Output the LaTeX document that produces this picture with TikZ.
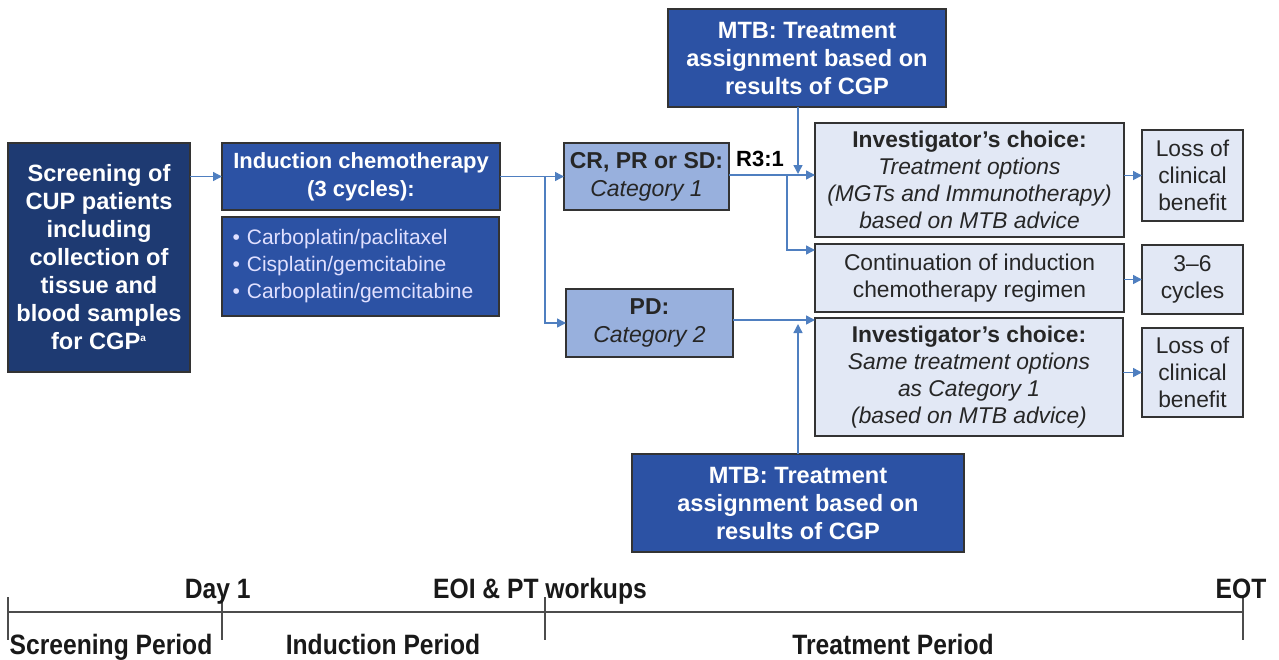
\documentclass[tikz,border=0pt]{standalone}
\usepackage{fontspec}
\setmainfont{Liberation Sans}
\newfontfamily\narrowfont{Liberation Sans}[FakeStretch=0.88]
\usetikzlibrary{arrows.meta}
\definecolor{navy}{HTML}{1E3A72}
\definecolor{midblue}{HTML}{2C52A4}
\definecolor{catblue}{HTML}{98B0DD}
\definecolor{paleblue}{HTML}{E2E8F5}
\definecolor{linkblue}{HTML}{4F7FC0}
\definecolor{edge}{HTML}{333333}
\def\px{0.5pt}
\begin{document}
\begin{tikzpicture}[x=0.5pt, y=-0.5pt,
    box/.style={draw=edge, line width=0.6pt, align=center, inner sep=0pt, outer sep=0pt},
    darkbox/.style={box, fill=#1, text=white, font=\fontsize{11.8}{14}\selectfont\bfseries},
    catbox/.style={box, fill=catblue, text=black!85, font=\fontsize{11.5}{14}\selectfont},
    lightbox/.style={box, fill=paleblue, text=black!85, font=\fontsize{11.4}{13.5}\selectfont},
    conn/.style={draw=linkblue, line width=0.7pt, -{Triangle[length=4.5pt,width=4.5pt]}},
    period/.style={font=\narrowfont\fontsize{14}{15}\selectfont\bfseries, text=black!90, inner sep=0pt}]
  \useasboundingbox (0,0) rectangle (1279,659);
  % left column
  \node[darkbox=navy, minimum width=182*\px, minimum height=229*\px] (scr) at (99,257.5)
    {Screening of\\CUP patients\\including\\collection of\\tissue and\\blood samples\\for CGP\textsuperscript{\tiny a}};
  \node[darkbox=midblue, font=\fontsize{11}{14}\selectfont\bfseries, minimum width=278*\px, minimum height=67*\px] (ind) at (361,176.5)
    {Induction chemotherapy\\(3 cycles):};
  \node[box, fill=midblue, text=white!88!blue, minimum width=277*\px, minimum height=99*\px,
        text width=128pt, align=left, font=\fontsize{10.5}{13.5}\selectfont] (drug) at (360.5,266.5)
    {\textbullet\ Carboplatin/paclitaxel\\\textbullet\ Cisplatin/gemcitabine\\\textbullet\ Carboplatin/gemcitabine};
  % categories
  \node[catbox, minimum width=165*\px, minimum height=67*\px] (cr) at (646.5,176.5)
    {\textbf{CR, PR or SD:}\\\textit{Category 1}};
  \node[catbox, minimum width=167*\px, minimum height=68*\px] (pd) at (649.5,323)
    {\textbf{PD:}\\\textit{Category 2}};
  \node[font=\fontsize{11}{14}\selectfont\bfseries, inner sep=0pt] (ratio) at (760,159) {R3:1};
  % tumour boards
  \node[darkbox=midblue, minimum width=278*\px, minimum height=98*\px] (mtb1) at (807,58)
    {MTB: Treatment\\assignment based on\\results of CGP};
  \node[darkbox=midblue, minimum width=332*\px, minimum height=98*\px] (mtb2) at (798,503)
    {MTB: Treatment\\assignment based on\\results of CGP};
  % treatment options
  \node[lightbox, minimum width=309*\px, minimum height=114*\px] (inv1) at (969.5,180)
    {\textbf{Investigator's choice:}\\\textit{Treatment options}\\\textit{(MGTs and Immunotherapy)}\\\textit{based on MTB advice}};
  \node[lightbox, minimum width=309*\px, minimum height=68*\px] (cont) at (969.5,278)
    {Continuation of induction\\chemotherapy regimen};
  \node[lightbox, minimum width=308*\px, minimum height=118*\px] (inv2) at (969,377)
    {\textbf{Investigator's choice:}\\\textit{Same treatment options}\\\textit{as Category 1}\\\textit{(based on MTB advice)}};
  \node[lightbox, minimum width=101*\px, minimum height=91*\px] (loss1) at (1192.5,175.5)
    {Loss of\\clinical\\benefit};
  \node[lightbox, minimum width=101*\px, minimum height=69*\px] (cyc) at (1192.5,279.5)
    {3--6\\cycles};
  \node[lightbox, minimum width=101*\px, minimum height=89*\px] (loss2) at (1192.5,372.5)
    {Loss of\\clinical\\benefit};
  % connectors
  \coordinate (split1) at (545,176.5);
  \coordinate (split2) at (787,175);
  \coordinate (cin) at (815,250);
  \coordinate (t1) at (798,174);
  \coordinate (t2) at (798,324);
  \draw[conn] (scr.east |- ind.west) -- (ind.west);
  \draw[conn] (ind.east) -- (cr.west);
  \draw[conn] (split1) |- (pd.west);
  \draw[conn] (cr.east |- split2) -- (split2 -| inv1.west);
  \draw[conn] (split2) |- (cin);
  \draw[conn] (t1 |- mtb1.south) -- (t1);
  \draw[conn] (pd.east |- 0,320) -- (inv2.west |- 0,320);
  \draw[conn] (mtb2.north) -- (t2);
  \draw[conn] (loss1.west -| inv1.east) -- (loss1.west);
  \draw[conn] (cyc.west -| cont.east) -- (cyc.west);
  \draw[conn] (loss2.west -| inv2.east) -- (loss2.west);
  % timeline
  \draw[black!70, line width=0.7pt] (8,612) -- (1243,612);
  \foreach \tx in {8,222,545,1243}
    \draw[black!70, line width=0.7pt] (\tx,597) -- (\tx,640);
  \node[period, anchor=base east] (day1) at (251,598) {Day 1};
  \node[period, anchor=base] (eoi) at (540,598) {EOI \& PT workups};
  \node[period, anchor=base] (eot) at (1241,598) {EOT};
  \node[period, anchor=base] (sp) at (111,654) {Screening Period};
  \node[period, anchor=base] (ip) at (383,654) {Induction Period};
  \node[period, anchor=base] (tp) at (893,654) {Treatment Period};
\end{tikzpicture}
\end{document}
